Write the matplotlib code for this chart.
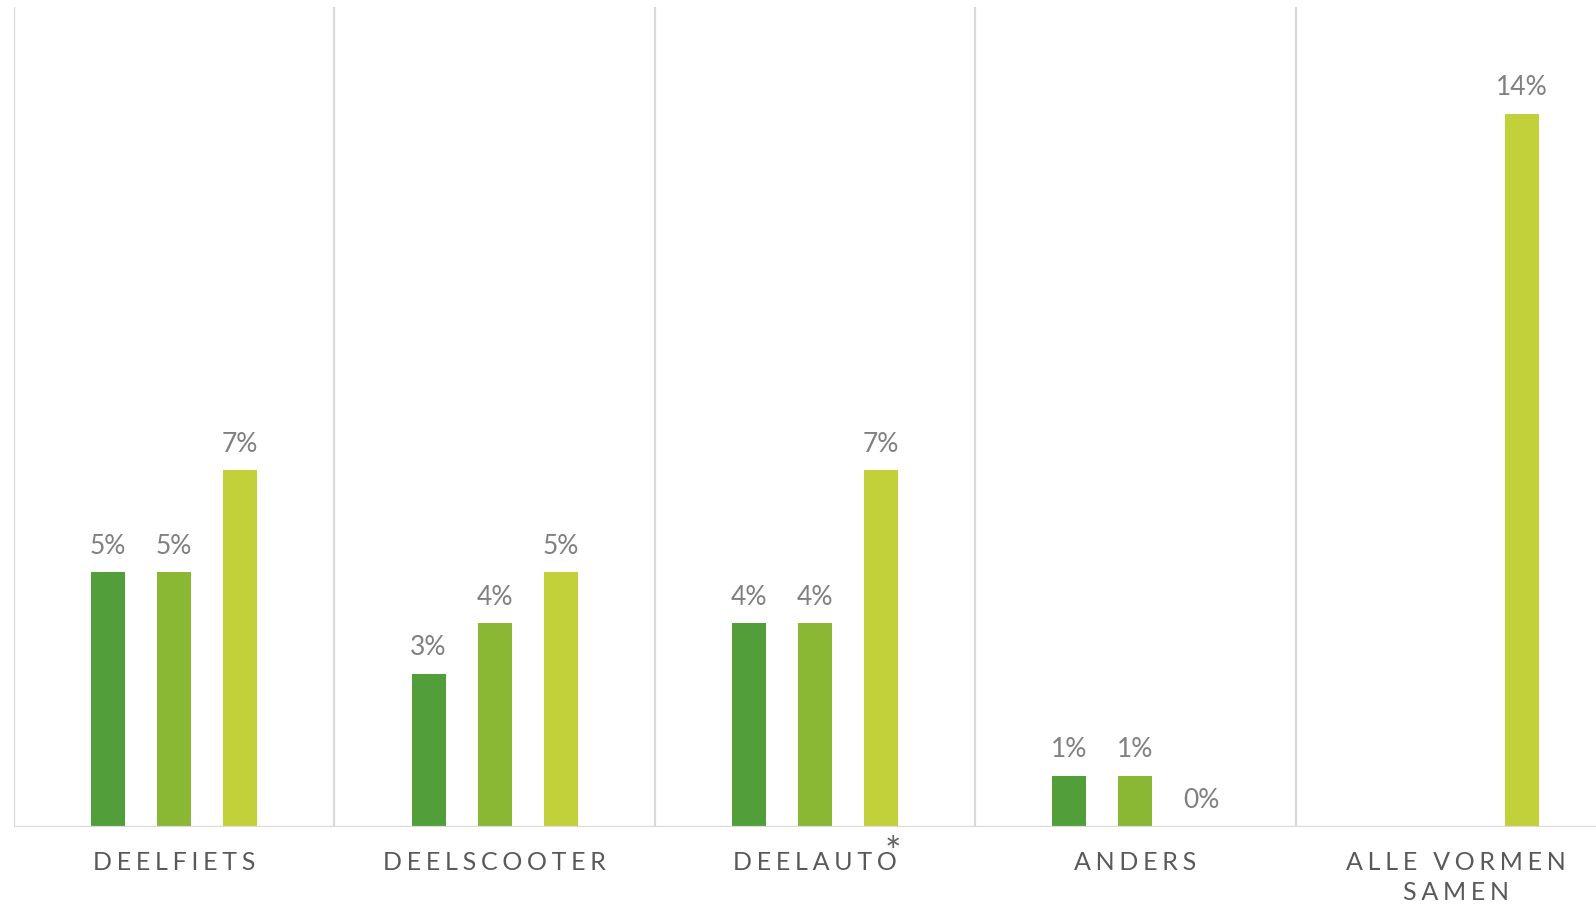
import numpy as np
import matplotlib.pyplot as plt

# share of respondents per vorm of deelmobiliteit (three series, no legend in source)
categories = ["DEELFIETS", "DEELSCOOTER", "DEELAUTO", "ANDERS", "ALLE VORMEN\nSAMEN"]
series_a = [5, 3, 4, 1, np.nan]
series_b = [5, 4, 4, 1, np.nan]
series_c = [7, 5, 7, 0, 14]
colors = ["#529E3A", "#8BB834", "#C2D03A"]
footnote_cat = "DEELAUTO"

plt.rcParams["font.family"] = ["Lato", "DejaVu Sans"]

W, H, DPI = 1596, 905, 100
fig = plt.figure(figsize=(W / DPI, H / DPI), dpi=DPI)
ax = fig.add_axes([14 / W, 78 / H, 1602 / W, 820 / H])

x = np.arange(len(categories))
step, width = 0.206, 0.106
for k, (vals, col) in enumerate(zip([series_a, series_b, series_c], colors)):
    pos = x + (k - 1) * step
    ax.bar(pos, vals, width=width, color=col, zorder=2)
    for px, v in zip(pos, vals):
        if np.isnan(v):
            continue
        ax.annotate(f"{v:g}%", xy=(px, v), xytext=(0, 13.5), textcoords="offset points",
                    ha="center", va="baseline", fontsize=19, color="#808080")

ax.set_xlim(-0.5, len(categories) - 0.5)
ax.set_ylim(0, 16.1)
for b in np.arange(-0.5, len(categories), 1.0):
    ax.axvline(b, color="#D9D9D9", lw=1.6, zorder=1)
ax.axhline(0, color="#D9D9D9", lw=1.6, zorder=3)
for s in ax.spines.values():
    s.set_visible(False)
ax.set_yticks([])


def spaced(t):
    return "\n".join("\u2009\u200a".join(line) for line in t.split("\n"))


ax.set_xticks(x, [spaced(c) for c in categories])
ax.tick_params(axis="x", length=0, pad=17, labelsize=18, labelcolor="#595959")
for lab in ax.get_xticklabels():
    lab.set_linespacing(1.4)

i = categories.index(footnote_cat)
ax.annotate("*", xy=(i, 0), xycoords=("data", "data"), xytext=(56, -27),
            textcoords="offset points", ha="center", va="baseline", fontsize=28,
            color="#666666")

fig.savefig("out.png", dpi=DPI)
